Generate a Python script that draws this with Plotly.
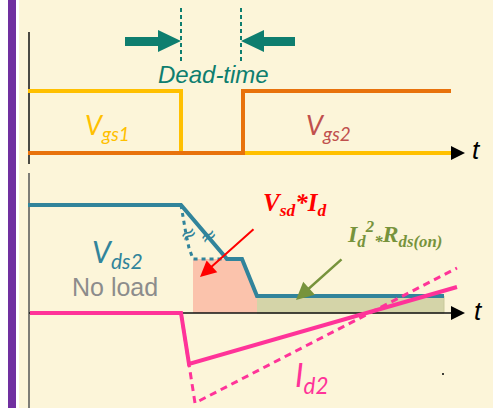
import plotly.graph_objects as go

# ---- data (diagram coordinates: x = time position, y = level position) ----
vgs1_t = [28, 181, 181, 452]
vgs1_y = [91, 91, 153, 153]
vgs2_t = [28, 243, 243, 451]
vgs2_y = [153, 153, 91, 91]
vds2_t = [28, 181, 227, 242, 257, 444]
vds2_y = [205, 205, 259, 259, 296, 296]
vds2_noload_t = [181, 183, 186, 189, 193, 227]
vds2_noload_y = [205, 218, 234, 248, 259, 259]
id2_t = [30, 181, 189, 457]
id2_y = [313, 313, 364, 287]
id2_noload_t = [181, 195, 457]
id2_noload_y = [313, 403, 268]
loss_sw_t = [193, 193, 242, 257, 257]
loss_sw_y = [313, 259, 259, 297, 313]
loss_cond_t = [257, 444, 444, 257]
loss_cond_y = [296, 296, 313, 313]
dead_t = [181, 241]

CREAM = "#FCF5D9"
TEAL = "#0E7E6F"
YEL = "#FFC000"
ORG = "#E8720C"
VDS = "#31849B"
PINK = "#FF3399"
OLIVE = "#77933C"

fig = go.Figure()

def line(x, y, color, width, dash="solid"):
    fig.add_trace(go.Scatter(x=x, y=y, mode="lines", line=dict(color=color, width=width, dash=dash),
                             hoverinfo="skip", showlegend=False))

# loss areas
fig.add_trace(go.Scatter(x=loss_sw_t, y=loss_sw_y, fill="toself", fillcolor="#FBC3AC",
                         mode="lines", line=dict(width=0, color="#FBC3AC"), showlegend=False, hoverinfo="skip"))
fig.add_trace(go.Scatter(x=loss_cond_t, y=loss_cond_y, fill="toself", fillcolor="#D4D4A8",
                         mode="lines", line=dict(width=1, color="#C9C99C"), showlegend=False, hoverinfo="skip"))

# axes
line([29, 29], [32, 164], "#111111", 1.5)
line([29, 29], [173, 408], "#555555", 1.5)
line([29, 455], [313, 313], "#111111", 1.5)

# gate waveforms
line(vgs1_t, vgs1_y, YEL, 4)
line(vgs2_t, vgs2_y, ORG, 4)

# Vds2
line(vds2_noload_t, vds2_noload_y, VDS, 3, "4px,4px")
line(vds2_t, vds2_y, VDS, 4)

# Id2
line(id2_noload_t, id2_noload_y, PINK, 3, "7px,5px")
line(id2_t, id2_y, PINK, 4)

# dead-time markers
for xd in dead_t:
    line([xd, xd], [8, 62], TEAL, 2, "4px,3px")

shapes = []
# t arrowheads
for yy in (153, 313):
    shapes.append(dict(type="path", path=f"M 451 {yy-7} L 465 {yy} L 451 {yy+7} Z",
                       fillcolor="#000", line=dict(width=0), xref="x", yref="y"))
# dead-time big arrows
shapes.append(dict(type="path", path="M 125 37 L 158 37 L 158 30 L 181 41 L 158 52 L 158 46 L 125 46 Z",
                   fillcolor=TEAL, line=dict(width=0), xref="x", yref="y"))
shapes.append(dict(type="path", path="M 295 37 L 264 37 L 264 30 L 241 41 L 264 52 L 264 46 L 295 46 Z",
                   fillcolor=TEAL, line=dict(width=0), xref="x", yref="y"))
# background layers
bg = [
    dict(type="rect", x0=19, x1=493, y0=0, y1=408, fillcolor=CREAM, line=dict(width=0), layer="below", xref="x", yref="y"),
    dict(type="rect", x0=8, x1=16, y0=0, y1=408, fillcolor="#7030A0", line=dict(width=0), layer="below", xref="x", yref="y"),
]
fig.update_layout(shapes=bg + shapes)

ann = []
def text(x, y, s, size, color, family="Lato", angle=0):
    ann.append(dict(x=x, y=y, text=s, showarrow=False, xref="x", yref="y", textangle=angle,
                    font=dict(size=size, color=color, family=family)))

text(213, 74, "<i>Dead-time</i>", 24, TEAL, "Liberation Sans")
text(107, 126, "<i>V<sub>gs1</sub></i>", 27, YEL)
text(328, 126, "<i>V<sub>gs2</sub></i>", 27, "#C0504D")
text(117, 253, "<i>V<sub>ds2</sub></i>", 30, VDS)
text(115, 287, "No load", 25, "#8C8C8C", "Liberation Sans")
text(311, 377, "<i>I<sub>d2</sub></i>", 32, PINK)
text(294, 204, "<b><i>V<sub>sd</sub>*I<sub>d</sub></i></b>", 25, "#FF0000", "Liberation Serif")
text(394, 234, "<b><i>I<sub>d</sub><sup>2</sup><sub>*</sub>R<sub>ds(on)</sub></i></b>", 24, OLIVE, "Liberation Serif")
text(476, 150, "<i>t</i>", 26, "#000", "Liberation Sans")
text(478, 311, "<i>t</i>", 26, "#000", "Liberation Sans")
text(188, 234, "≈", 20, VDS, "DejaVu Sans", -30)
text(208, 236, "≈", 20, VDS, "DejaVu Sans", -30)

ann.append(dict(x=200, y=277, ax=255, ay=228, xref="x", yref="y", axref="x", ayref="y",
                showarrow=True, arrowhead=2, arrowsize=1.6, arrowwidth=2, arrowcolor="#FF0000", text=""))
ann.append(dict(x=296, y=300, ax=343, ay=258, xref="x", yref="y", axref="x", ayref="y",
                showarrow=True, arrowhead=2, arrowsize=1.4, arrowwidth=2.5, arrowcolor=OLIVE, text=""))
fig.update_layout(annotations=ann)

fig.add_trace(go.Scatter(x=[443], y=[374], mode="markers", marker=dict(size=2, color="#000"),
                         showlegend=False, hoverinfo="skip"))

fig.update_layout(
    width=493, height=408, margin=dict(l=0, r=0, t=0, b=0),
    paper_bgcolor="white", plot_bgcolor="white",
    xaxis=dict(range=[0, 493], visible=False, fixedrange=True),
    yaxis=dict(range=[408, 0], visible=False, fixedrange=True),
)
fig.write_html("out.html", config={"displayModeBar": False},
               post_script="document.body.style.margin='0px';document.body.style.overflow='hidden';")
